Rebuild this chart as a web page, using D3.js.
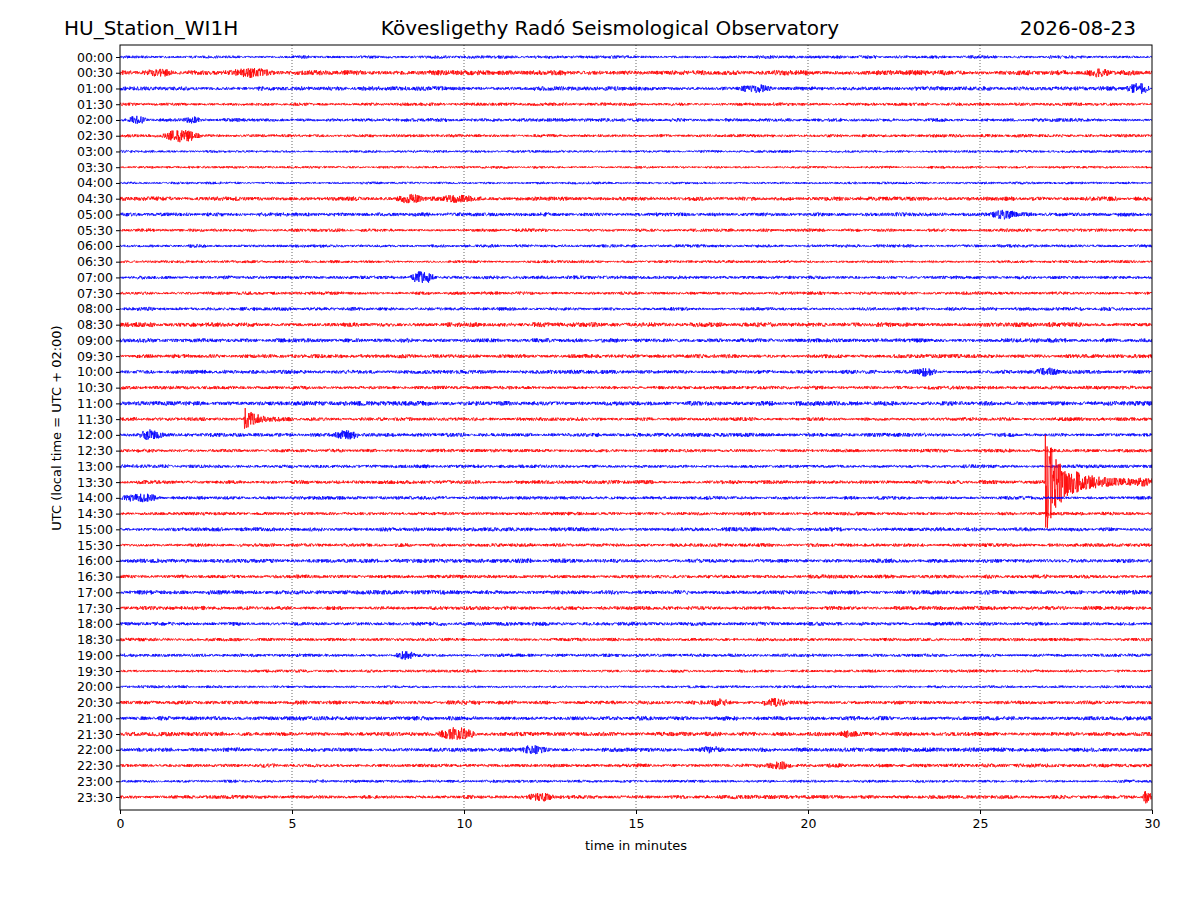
<!DOCTYPE html>
<html><head><meta charset="utf-8">
<script src="https://cdn.jsdelivr.net/npm/d3@7"></script>
<style>body{margin:0;background:#fff}text{font-family:"DejaVu Sans",sans-serif}</style>
</head><body><div id="chart"></div>
<script>
var W = 1200, H = 900;
var station = "HU_Station_WI1H";
var observatory = "Kövesligethy Radó Seismological Observatory";
var dateLabel = "2026-08-23";

// row labels, 30-minute lines
var rows = [];
for (var i = 0; i < 48; i++) {
  rows.push(String(Math.floor(i / 2)).padStart(2, "0") + ":" + (i % 2 ? "30" : "00"));
}
var xTicks = [0, 5, 10, 15, 20, 25, 30];
// background noise level per row (in row-units, 1 = row spacing)
var noise = [0.09,0.14,0.12,0.09,0.1,0.09,0.07,0.07,0.07,0.12,0.11,0.09,0.09,0.08,0.1,0.09,
  0.1,0.13,0.12,0.11,0.11,0.1,0.13,0.1,0.11,0.1,0.1,0.11,0.1,0.1,0.11,0.1,
  0.12,0.11,0.12,0.11,0.11,0.09,0.09,0.08,0.08,0.11,0.12,0.12,0.12,0.11,0.08,0.11];
// events: row index, start minute, peak amplitude (row-units), duration (minutes)
var evRow = [1,1,1,2,2,4,4,5,9,9,10,14,20,20,23,24,24,27,28,38,41,41,43,43,44,44,45,47,47];
var evMin = [0.6,3.2,28,18,29.2,0.2,1.8,1.2,8,9.3,25.3,8.4,23,26.5,3.6,0.5,6.2,26.9,0,8,17,18.6,9.2,20.9,11.6,16.8,18.8,29.7,11.8];
var evAmp = [0.15,0.2,0.15,0.18,0.25,0.2,0.15,0.32,0.2,0.15,0.2,0.32,0.2,0.18,0.8,0.25,0.2,3.0,0.2,0.18,0.18,0.22,0.35,0.18,0.18,0.15,0.18,0.35,0.18];
var evDur = [1,1.2,0.8,1,0.8,0.6,0.6,1.2,0.8,1,0.8,0.8,0.8,0.8,1.5,0.8,0.8,3.1,1.2,0.6,0.8,0.8,1.2,0.6,0.8,0.8,0.8,0.3,0.8];

var m = {l: 120, r: 1152, t: 45, b: 810};
var svg = d3.select("#chart").append("svg").attr("width", W).attr("height", H);
var x = d3.scaleLinear().domain([0, 30]).range([m.l, m.r]);
var y = d3.scalePoint().domain(rows).range([57, 797]);
var step = y.step();

svg.selectAll(".grid").data(xTicks.slice(1, -1)).enter().append("line")
  .attr("x1", function(d){return x(d);}).attr("x2", function(d){return x(d);})
  .attr("y1", m.t).attr("y2", m.b)
  .attr("stroke", "#000").attr("stroke-width", 0.6).attr("stroke-dasharray", "1,2");

// deterministic hash noise
function hash(n) { var s = Math.sin(n * 12.9898 + 78.233) * 43758.5453; return (s - Math.floor(s)) * 2 - 1; }

svg.append("defs").append("clipPath").attr("id", "clip")
  .append("rect").attr("x", m.l).attr("y", m.t).attr("width", m.r - m.l).attr("height", m.b - m.t);
var g = svg.append("g").attr("clip-path", "url(#clip)");
var N = 3000;
rows.forEach(function(r, ri) {
  var pts = [];
  for (var k = 0; k <= N; k++) {
    var t = k / N * 30;
    var a = noise[ri] * (0.7 + 0.5 * Math.abs(hash(ri * 97 + Math.floor(t * 2))));
    for (var e = 0; e < evRow.length; e++) {
      if (evRow[e] !== ri) continue;
      var dt = t - evMin[e];
      if (ri === 27 && evMin[e] > 26) {
        if (dt >= 0) a += evAmp[e] * Math.exp(-dt * 2.5) + 0.3 * Math.exp(-dt * 0.25);
      } else if (ri === 23 && dt >= 0 && dt < evDur[e]) {
        a += evAmp[e] * Math.exp(-dt * 3);
      } else if (Math.abs(dt - evDur[e] / 2) < evDur[e] / 2) {
        a += evAmp[e] * Math.sin(Math.PI * dt / evDur[e]);
      }
    }
    pts.push([t, a * hash(ri * 10007 + k)]);
  }
  var line = d3.line().x(function(d){return x(d[0]);}).y(function(d){return y(r) - d[1] * step;});
  g.append("path").attr("d", line(pts)).attr("fill", "none")
    .attr("stroke", ri % 2 ? "#ff0000" : "#0000ff").attr("stroke-width", 0.8);
});

svg.append("rect").attr("x", m.l).attr("y", m.t).attr("width", m.r - m.l).attr("height", m.b - m.t)
  .attr("fill", "none").attr("stroke", "#000");

var xa = svg.append("g").attr("transform", "translate(0," + m.b + ")")
  .call(d3.axisBottom(x).tickValues(xTicks).tickSize(4).tickFormat(d3.format("d")));
var ya = svg.append("g").attr("transform", "translate(" + m.l + ",0)")
  .call(d3.axisLeft(y).tickSize(4));
[xa, ya].forEach(function(a){
  a.select(".domain").remove();
  a.selectAll("text").attr("font-size", 12.5).attr("fill", "#000").style("font-family", "DejaVu Sans");
});
xa.selectAll("text").attr("dy", "0.9em");

svg.append("text").attr("x", 64).attr("y", 35).attr("font-size", 20).text(station);
svg.append("text").attr("x", 610).attr("y", 35).attr("font-size", 20).attr("text-anchor", "middle").text(observatory);
svg.append("text").attr("x", 1136).attr("y", 35).attr("font-size", 20).attr("text-anchor", "end").text(dateLabel);
svg.append("text").attr("x", 636).attr("y", 850).attr("font-size", 13).attr("text-anchor", "middle").text("time in minutes");
svg.append("text").attr("transform", "translate(61,428) rotate(-90)").attr("font-size", 13)
  .attr("text-anchor", "middle").text("UTC (local time = UTC + 02:00)");
</script></body></html>
